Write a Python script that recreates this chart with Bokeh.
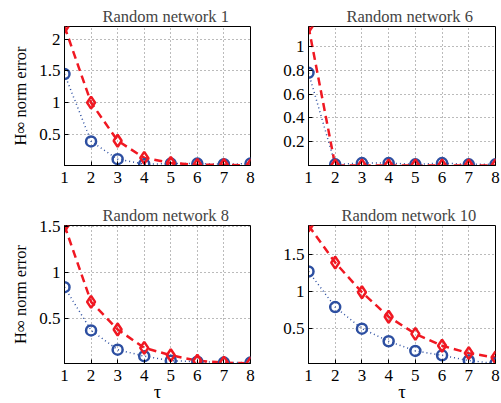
from bokeh.plotting import figure
from bokeh.layouts import column, row
from bokeh.models import Range1d, FixedTicker
from bokeh.embed import file_html
from bokeh.resources import INLINE

tau = [1, 2, 3, 4, 5, 6, 7, 8]

titles = ["Random network 1", "Random network 6", "Random network 8", "Random network 10"]

# red dashed diamonds (upper curve), blue dotted circles (lower curve)
red_vals = [
    [2.20, 1.00, 0.40, 0.13, 0.05, 0.02, 0.02, 0.01],
    [1.17, 0.00, 0.00, 0.00, 0.00, 0.00, 0.00, 0.00],
    [1.51, 0.68, 0.38, 0.18, 0.10, 0.04, 0.02, 0.01],
    [1.89, 1.39, 0.99, 0.66, 0.43, 0.27, 0.17, 0.11],
]
blue_vals = [
    [1.45, 0.39, 0.11, 0.03, 0.04, 0.04, 0.03, 0.04],
    [0.78, 0.01, 0.02, 0.02, 0.01, 0.02, 0.01, 0.01],
    [0.84, 0.37, 0.16, 0.09, 0.04, 0.03, 0.02, 0.02],
    [1.27, 0.79, 0.50, 0.33, 0.20, 0.14, 0.07, 0.03],
]

y_ticks = [
    [0.5, 1, 1.5, 2],
    [0.2, 0.4, 0.6, 0.8, 1],
    [0.5, 1, 1.5],
    [0.5, 1, 1.5],
]
y_tick_labels = [
    ["0.5", "1", "1.5", "2"],
    ["0.2", "0.4", "0.6", "0.8", "1"],
    ["0.5", "1", "1.5"],
    ["0.5", "1", "1.5"],
]
x_tick_labels = ["1", "2", "3", "4", "5", "6", "7", "8"]

y_label = "H\u221e norm error"
x_label = "\u03c4"

FONT = "Liberation Serif"
RED = "#f01822"
BLUE = "#2d4fa1"


def make_panel(i, left, top, bottom, right, fh, fw, show_ylabel, show_xlabel):
    allv = red_vals[i] + blue_vals[i]
    p = figure(
        frame_width=fw, frame_height=fh,
        x_range=Range1d(1, 8), y_range=Range1d(min(allv), max(allv)),
        output_backend="svg", toolbar_location=None,
        min_border_left=left, min_border_top=top,
        min_border_bottom=bottom, min_border_right=right,
    )
    p.title.text = titles[i]
    p.title.text_font = FONT
    p.title.text_font_size = "16.5px"
    p.title.text_font_style = "normal"
    p.title.align = "left"
    p.title.offset = 33 if i == 3 else 38
    p.title.standoff = 2
    p.outline_line_color = "black"
    p.outline_line_alpha = 1
    p.background_fill_color = "white"
    p.border_fill_color = "white"

    p.axis.axis_line_color = "black"
    p.axis.major_tick_in = 4
    p.axis.major_tick_out = 0
    p.axis.minor_tick_line_color = None
    p.axis.major_label_text_font = FONT
    p.axis.major_label_text_font_size = "17px"
    p.axis.major_label_text_color = "black"
    p.axis.axis_label_text_font = FONT
    p.axis.axis_label_text_font_style = "normal"
    p.axis.axis_label_text_color = "black"

    p.xaxis.ticker = FixedTicker(ticks=tau)
    p.xaxis.major_label_overrides = {t: s for t, s in zip(tau, x_tick_labels)}
    p.xaxis.major_label_standoff = 6
    p.yaxis.ticker = FixedTicker(ticks=y_ticks[i])
    p.yaxis.major_label_overrides = {t: s for t, s in zip(y_ticks[i], y_tick_labels[i])}
    p.yaxis.major_label_standoff = 4

    if show_ylabel:
        p.yaxis.axis_label = y_label
        p.yaxis.axis_label_text_font_size = "16.5px"
        p.yaxis.axis_label_standoff = 6
    if show_xlabel:
        p.xaxis.axis_label = x_label
        p.xaxis.axis_label_text_font_size = "19px"
        p.xaxis.axis_label_standoff = -3

    p.grid.grid_line_color = "#777777"
    p.grid.grid_line_dash = "1 3"
    p.grid.grid_line_width = 1
    p.xgrid.ticker = FixedTicker(ticks=tau)
    p.ygrid.ticker = FixedTicker(ticks=y_ticks[i])

    p.line(tau, blue_vals[i], color=BLUE, line_width=1.5, line_dash="1 3")
    p.line(tau, red_vals[i], color=RED, line_width=2.5, line_dash="8 5")
    p.scatter(tau, blue_vals[i], marker="circle", size=10, fill_color=None,
              line_color=BLUE, line_width=2.5)
    p.scatter(tau, red_vals[i], marker="diamond", size=12, fill_color=None,
              line_color=RED, line_width=2.5)
    return p


p1 = make_panel(0, 64, 26, 34, 8, 139, 186, True, False)
p2 = make_panel(1, 50, 26, 34, 6, 139, 187, False, False)
p3 = make_panel(2, 64, 26, 40, 8, 138, 186, True, True)
p4 = make_panel(3, 50, 26, 40, 6, 138, 187, False, True)

p = column(row(p1, p2, spacing=0), row(p3, p4, spacing=0), spacing=0)

open("out.html", "w").write(file_html(p, INLINE))
